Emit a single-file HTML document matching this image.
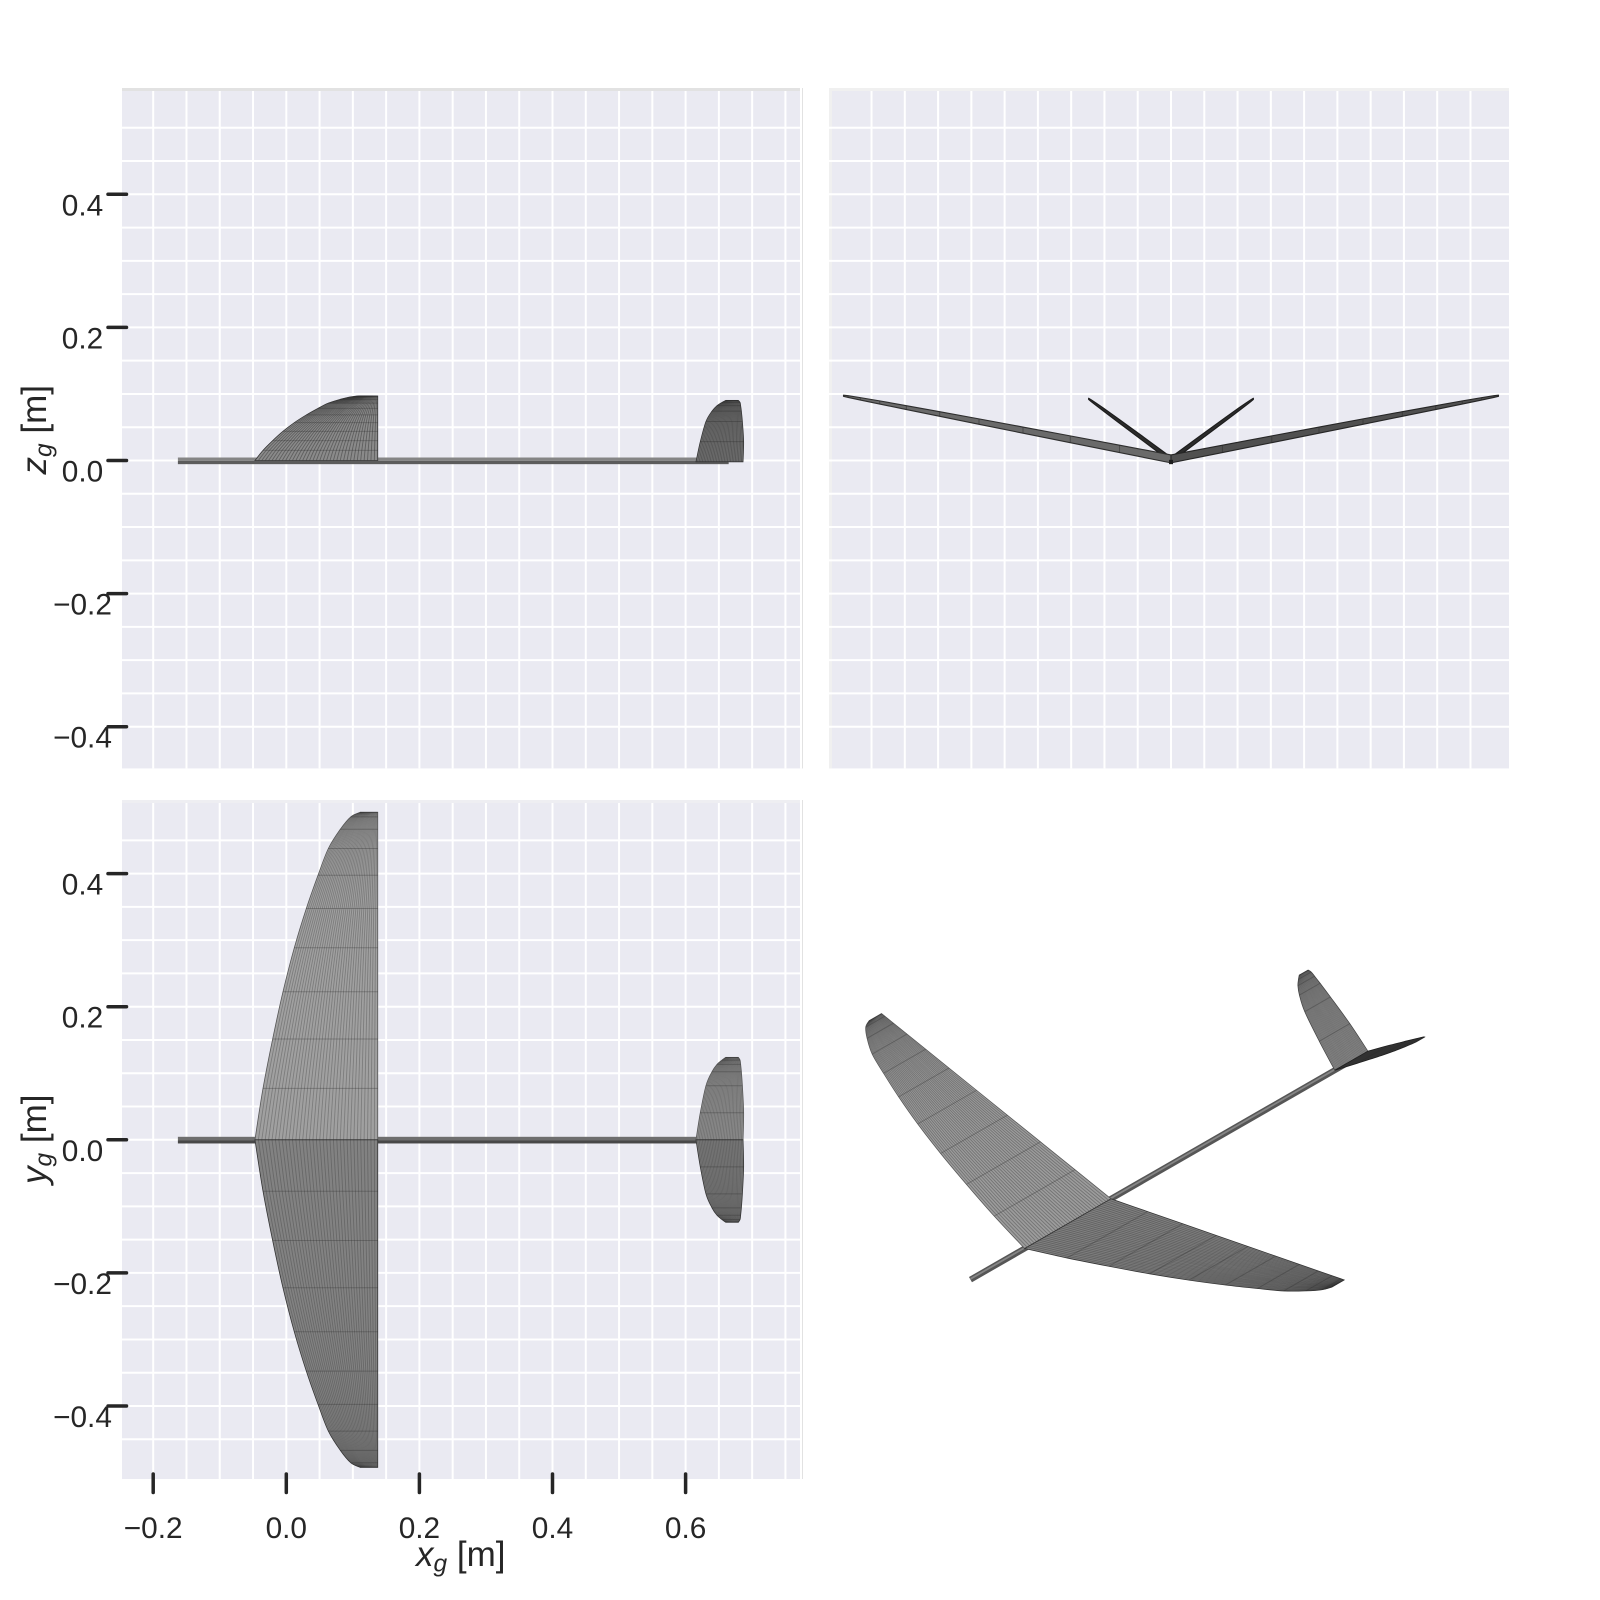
<!DOCTYPE html>
<html lang="en">
<head>
<meta charset="utf-8">
<title>Aircraft three-view</title>
<style>
html,body{margin:0;padding:0;background:#fff;}
svg{display:block;}
text{font-family:"Liberation Sans",sans-serif;fill:#262626;}
</style>
</head>
<body>
<svg id="chart" xmlns="http://www.w3.org/2000/svg" width="1600" height="1600" viewBox="0 0 1600 1600">
  <rect x="0" y="0" width="1600" height="1600" fill="#ffffff"/>
  <g id="panels"></g>
  <g id="marks"></g>
  <g id="ticks"></g>
  <text transform="translate(46,474.5) rotate(-90)" font-size="35"><tspan font-style="italic">z</tspan><tspan font-style="italic" font-size="24.5" dy="5.5">g</tspan><tspan dy="-5.5"> [m]</tspan></text>
  <text transform="translate(46,1184) rotate(-90)" font-size="35"><tspan font-style="italic">y</tspan><tspan font-style="italic" font-size="24.5" dy="5.5">g</tspan><tspan dy="-5.5"> [m]</tspan></text>
  <text x="416" y="1566" font-size="35"><tspan font-style="italic">x</tspan><tspan font-style="italic" font-size="24.5" dy="5.5">g</tspan><tspan dy="-5.5"> [m]</tspan></text>
</svg>
<script>
// ---- data (metres) ----
const wingStationY = [0, 0.0773, 0.1514, 0.2224, 0.2885, 0.3476, 0.3976, 0.4377, 0.4667, 0.4852, 0.4921];
const wingLeadingX = [-0.0471, -0.0350, -0.0205, -0.0050, 0.0120, 0.0301, 0.0477, 0.0632, 0.0812, 0.0968, 0.1108];
const wingTrailingX = [0.1374, 0.1374, 0.1374, 0.1374, 0.1374, 0.1374, 0.1374, 0.1374, 0.1374, 0.1374, 0.1374];
const tailStationY = [0, 0.0407, 0.0813, 0.1023, 0.1133, 0.1198, 0.1238];
const tailLeadingX = [0.6156, 0.6221, 0.6306, 0.6397, 0.6472, 0.6547, 0.6602];
const tailTrailingX = [0.6863, 0.6872, 0.6853, 0.6838, 0.6827, 0.6818, 0.6793];
const wingDihedral = [0.197];
const tailDihedral = [0.745];
const fuselageX = [-0.1629, 0.6647];
const fuselageHalfDepth = [0.0045, 0.0055];
const xTickValues = [-0.2, 0, 0.2, 0.4, 0.6];
const xTickLabels = ["\u22120.2", "0.0", "0.2", "0.4", "0.6"];
const yTickValues = [0.4, 0.2, 0, -0.2, -0.4];
const yTickLabels = ["0.4", "0.2", "0.0", "\u22120.2", "\u22120.4"];
const gridXValues = [-0.2, -0.15, -0.1, -0.05, 0, 0.05, 0.1, 0.15, 0.2, 0.25, 0.3, 0.35, 0.4, 0.45, 0.5, 0.55, 0.6, 0.65, 0.7, 0.75];
const gridHValues = [0.5, 0.45, 0.4, 0.35, 0.3, 0.25, 0.2, 0.15, 0.1, 0.05, 0, -0.05, -0.1, -0.15, -0.2, -0.25, -0.3, -0.35, -0.4];
const gridBottomHValues = [0.45, 0.4, 0.35, 0.3, 0.25, 0.2, 0.15, 0.1, 0.05, 0, -0.05, -0.1, -0.15, -0.2, -0.25, -0.3, -0.35, -0.4, -0.45];
const gridFrontValues = [-0.45, -0.4, -0.35, -0.3, -0.25, -0.2, -0.15, -0.1, -0.05, 0, 0.05, 0.1, 0.15, 0.2, 0.25, 0.3, 0.35, 0.4, 0.45];

// ---- axis functions ----
const scale = 665.5;
const sx = v => 286.3 + scale * v;
const sz = v => 460.5 - scale * v;
const sy = v => 1139.8 - scale * v;
const sf = v => 1171 + scale * v;
const proj3d = (x, y, z) => [1046.7 + 468 * x - 470 * y + 19 * z, 1235.8 - 269 * x - 270.6 * y - 537 * z];

const NS = "http://www.w3.org/2000/svg";
const panels = document.getElementById("panels");
const marks = document.getElementById("marks");
const ticks = document.getElementById("ticks");
function mk(parent, tag, attrs) {
  const el = document.createElementNS(NS, tag);
  for (const k in attrs) el.setAttribute(k, attrs[k]);
  parent.appendChild(el);
  return el;
}
const fmt = pts => pts.map(p => p[0].toFixed(2) + "," + p[1].toFixed(2)).join(" ");
// smooth path segment through the given screen points (no leading move command)
function smoothSegs(pts) {
  let d = "";
  for (let i = 0; i < pts.length - 1; i++) {
    const p0 = pts[Math.max(i - 1, 0)], p1 = pts[i], p2 = pts[i + 1], p3 = pts[Math.min(i + 2, pts.length - 1)];
    const c1 = [p1[0] + (p2[0] - p0[0]) / 6, p1[1] + (p2[1] - p0[1]) / 6];
    const c2 = [p2[0] - (p3[0] - p1[0]) / 6, p2[1] - (p3[1] - p1[1]) / 6];
    d += "C" + c1[0].toFixed(2) + " " + c1[1].toFixed(2) + " " + c2[0].toFixed(2) + " " + c2[1].toFixed(2) + " " + p2[0].toFixed(2) + " " + p2[1].toFixed(2);
  }
  return d;
}

// ---- panels & grid ----
function drawPanel(name, x0, y0, x1, y1, vs, hs, sv, sh, edge, topColor) {
  const g = mk(panels, "g", {});
  
  
  const bg = mk(g, "rect", {x: x0, y: y0, width: x1 - x0, height: y1 - y0, fill: "#eaeaf2"});
  
  
  const s3 = mk(g, "rect", {x: x0, y: y0, width: x1 - x0, height: 3, fill: topColor});
  
  
  if (edge === "left") {
    const s2 = mk(g, "rect", {x: x0, y: y0, width: 3, height: y1 - y0, fill: "#f0f0f0"});
    
    
  }
  vs.forEach(v => {
    const l = mk(g, "line", {x1: sv(v), x2: sv(v), y1: y0 + 3, y2: y1, stroke: "#fff", "stroke-width": 2});
    
    
  });
  hs.forEach(v => {
    const l = mk(g, "line", {x1: x0, x2: x1, y1: sh(v), y2: sh(v), stroke: "#fff", "stroke-width": 2});
    
    
  });
  if (edge === "right") {
    const s1 = mk(g, "rect", {x: x1 - 3, y: y0, width: 2, height: y1 - y0, fill: "#fff"});
    
    
    const s2 = mk(g, "rect", {x: x1 - 1, y: y0, width: 1, height: y1 - y0, fill: "#e2e2e2"});
    
    
  }
}
drawPanel("side-view-panel", 122, 88, 803, 768.4, gridXValues, gridHValues, sx, sz, "right", "#e2e2e2");
drawPanel("front-view-panel", 829, 88, 1509, 768.4, gridFrontValues, gridHValues, sf, sz, "left", "#f0f0f0");
drawPanel("top-view-panel", 122, 800, 803, 1479, gridXValues, gridBottomHValues, sx, sy, "right", "#eeeef2");

// ---- ticks ----
function tickMark(x1, y1, x2, y2, name) {
  const t = mk(ticks, "line", {x1, y1, x2, y2, stroke: "#262626", "stroke-width": 3.5, "stroke-linecap": "round"});
  
  
}
function tickText(x, y, str, name) {
  const t = mk(ticks, "text", {x, y, "text-anchor": "middle", "font-size": 29.8});
  t.textContent = str;
  
  
}
xTickValues.forEach((v, i) => {
  tickMark(sx(v), 1474, sx(v), 1492.5, 'x-tick');
  tickText(sx(v), 1538, xTickLabels[i], 'x-tick-label');
});
yTickValues.forEach((v, i) => {
  tickMark(108, sz(v), 126.5, sz(v), 'z-tick');
  tickText(82.5, sz(v) + 21, yTickLabels[i], 'z-tick-label');
  tickMark(108, sy(v), 126.5, sy(v), 'y-tick');
  tickText(82.5, sy(v) + 21, yTickLabels[i], 'y-tick-label');
});

// ---- surface mesh: stations projected by p(x, y) ----
function surface(parent, name, ys, le, te, p, style) {
  const g = mk(parent, "g", {});
  
  
  const lead = ys.map((y, i) => p(le[i], y));
  const trail = ys.map((y, i) => p(te[i], y)).reverse();
  const d = "M" + lead[0][0].toFixed(2) + " " + lead[0][1].toFixed(2) + smoothSegs(lead) +
    "L" + trail[0][0].toFixed(2) + " " + trail[0][1].toFixed(2) + smoothSegs(trail) + "Z";
  const skin = mk(g, "path", {d, fill: style.fill, stroke: style.edge, "stroke-width": style.edgeWidth});
  
  
  for (let k = 1; k < style.strips; k++) {
    const f = k / style.strips;
    const line = ys.map((y, i) => p(le[i] + f * (te[i] - le[i]), y));
    const l = mk(g, "path", {d: "M" + line[0][0].toFixed(2) + " " + line[0][1].toFixed(2) + smoothSegs(line), fill: "none", stroke: style.strip, "stroke-width": style.stripWidth, "stroke-opacity": style.stripOpacity});
    
    
  }
  ys.forEach((y, i) => {
    if (i === 0) return;
    const a = p(le[i], y), b = p(te[i], y);
    const l = mk(g, "line", {x1: a[0], y1: a[1], x2: b[0], y2: b[1], stroke: "#2a2a2a", "stroke-width": 1, "stroke-opacity": style.ribOpacity});
    
    
  });
}
function fuselageRect(name, yFn, colorTop, colorBottom) {
  const g = mk(marks, "g", {});
  
  
  const x0 = sx(fuselageX[0]), x1 = sx(fuselageX[1]);
  const top = yFn(fuselageHalfDepth[0]), mid = yFn(-0.0005), bot = yFn(-fuselageHalfDepth[1]);
  const a = mk(g, "rect", {x: x0, y: top, width: x1 - x0, height: mid - top, fill: colorTop});
  
  
  const b = mk(g, "rect", {x: x0, y: mid, width: x1 - x0, height: bot - mid, fill: colorBottom});
  
  
}

const stripLight = {strip: "#333", stripWidth: 0.9, stripOpacity: 0.32, ribOpacity: 0.32, edgeWidth: 0.8};
const wingStrips = 36, tailStrips = 30;
const withStyle = (fill, edge, strips, extra) => Object.assign({}, stripLight, {fill, edge, strips}, extra || {});

// ---- side view (x-z) ----
fuselageRect("side-fuselage", sz, "#858585", "#5c5c5c");
surface(marks, "side-wing", wingStationY, wingLeadingX, wingTrailingX,
  (x, y) => [sx(x), sz(wingDihedral[0] * y)], withStyle("#8a8a8a", "#333", wingStrips, {stripOpacity: 0.5, ribOpacity: 0.3}));
surface(marks, "side-tail", tailStationY, tailLeadingX, tailTrailingX,
  (x, y) => [sx(x), sz(tailDihedral[0] * y - 0.002)], withStyle("#747474", "#333", tailStrips, {stripOpacity: 0.45, ribOpacity: 0.35}));

// ---- top view (x-y) ----
fuselageRect("top-fuselage", v => sy(v), "#6e6e6e", "#484848");
[1, -1].forEach(side => {
  const up = side > 0;
  surface(marks, up ? "top-wing-positive" : "top-wing-negative", wingStationY, wingLeadingX, wingTrailingX,
    (x, y) => [sx(x), sy(side * y)], withStyle(up ? "#a0a0a0" : "#828282", up ? "#555" : "#333", wingStrips));
  surface(marks, up ? "top-tail-positive" : "top-tail-negative", tailStationY, tailLeadingX, tailTrailingX,
    (x, y) => [sx(x), sy(side * y)], withStyle(up ? "#929292" : "#7c7c7c", up ? "#555" : "#333", tailStrips));
});

// ---- front view (y-z) ----
function frontBand(name, ys, le, te, dihedral, thick, side, fill, edge) {
  const chord = i => te[i] - le[i];
  const g = mk(marks, "g", {});
  
  
  const pts = [];
  ys.forEach((y, i) => pts.push([sf(side * y), sz(dihedral * y + 0.7 * thick * chord(i))]));
  for (let i = ys.length - 1; i >= 0; i--) pts.push([sf(side * ys[i]), sz(dihedral * ys[i] - 0.3 * thick * chord(i))]);
  const poly = mk(g, "polygon", {points: fmt(pts), fill, stroke: edge, "stroke-width": 1.1, "stroke-linejoin": "round"});
  
  
  ys.forEach((y, i) => {
    if (i === 0) return;
    const l = mk(g, "line", {x1: sf(side * y), x2: sf(side * y),
      y1: sz(dihedral * y + 0.7 * thick * chord(i)), y2: sz(dihedral * y - 0.3 * thick * chord(i)),
      stroke: "#2a2a2a", "stroke-width": 1, "stroke-opacity": 0.5});
    
    
  });
}
frontBand("front-tail-left", tailStationY, tailLeadingX, tailTrailingX, tailDihedral[0], 0.1, -1, "#2b2b2b", "#1c1c1c");
frontBand("front-tail-right", tailStationY, tailLeadingX, tailTrailingX, tailDihedral[0], 0.1, 1, "#2b2b2b", "#1c1c1c");
frontBand("front-wing-left", wingStationY, wingLeadingX, wingTrailingX, wingDihedral[0], 0.065, -1, "#6a6a6a", "#2e2e2e");
frontBand("front-wing-right", wingStationY, wingLeadingX, wingTrailingX, wingDihedral[0], 0.065, 1, "#505050", "#262626");
const frontBody = mk(marks, "rect", {x: sf(-0.003), y: sz(0.001), width: sf(0.003) - sf(-0.003), height: sz(-fuselageHalfDepth[1]) - sz(0.001), fill: "#1e1e1e"});



// ---- 3D view ----
const nose3d = proj3d(fuselageX[0], 0, 0), end3d = proj3d(fuselageX[1], 0, 0);
const bodyOuter = mk(marks, "line", {x1: nose3d[0], y1: nose3d[1], x2: end3d[0], y2: end3d[1], stroke: "#565656", "stroke-width": 6});


const bodyInner = mk(marks, "line", {x1: nose3d[0], y1: nose3d[1] - 0.7, x2: end3d[0], y2: end3d[1] - 0.7, stroke: "#858585", "stroke-width": 1.8});


surface(marks, "iso-tail-positive", tailStationY, tailLeadingX, tailTrailingX,
  (x, y) => proj3d(x, y, tailDihedral[0] * y), withStyle("#909090", "#444", tailStrips));
surface(marks, "iso-tail-negative", tailStationY, tailLeadingX, tailTrailingX,
  (x, y) => proj3d(x, -y, tailDihedral[0] * y), withStyle("#333333", "#1e1e1e", 6));
surface(marks, "iso-wing-positive", wingStationY, wingLeadingX, wingTrailingX,
  (x, y) => proj3d(x, y, wingDihedral[0] * y), withStyle("#9c9c9c", "#555", wingStrips, {stripOpacity: 0.38}));
surface(marks, "iso-wing-negative", wingStationY, wingLeadingX, wingTrailingX,
  (x, y) => proj3d(x, -y, wingDihedral[0] * y), withStyle("#808080", "#333", wingStrips, {stripOpacity: 0.38}));
</script>
</body>
</html>
